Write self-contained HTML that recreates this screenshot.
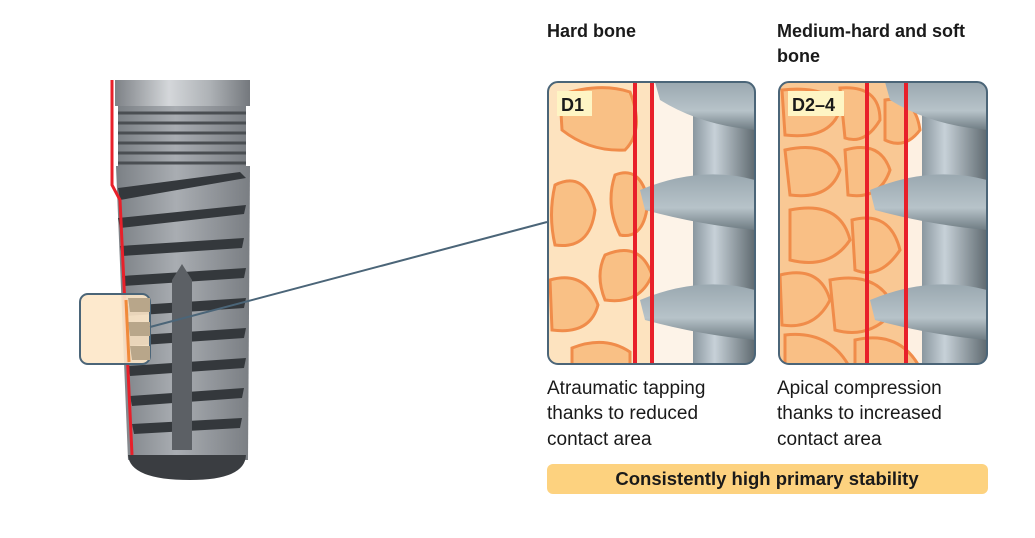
<!DOCTYPE html>
<html><head><meta charset="utf-8"><style>
html,body{margin:0;padding:0;background:#fff;width:1035px;height:538px;overflow:hidden}
svg{display:block}
text{font-family:"Liberation Sans",sans-serif;fill:#1a1a1a}
</style></head><body>
<svg width="1035" height="538" viewBox="0 0 1035 538" xmlns="http://www.w3.org/2000/svg">
<defs>
<linearGradient id="cap" x1="0" x2="1"><stop offset="0" stop-color="#7d8186"/><stop offset=".4" stop-color="#d4d7da"/><stop offset=".7" stop-color="#aeb2b6"/><stop offset="1" stop-color="#74787d"/></linearGradient>
<linearGradient id="body" x1="0" x2="1"><stop offset="0" stop-color="#7b8085"/><stop offset=".45" stop-color="#a9adb2"/><stop offset="1" stop-color="#7a7e83"/></linearGradient>
<linearGradient id="core" x1="0" x2="1"><stop offset="0" stop-color="#8a979f"/><stop offset=".35" stop-color="#c7d1d8"/><stop offset="1" stop-color="#5f6a70"/></linearGradient>
<linearGradient id="fl" x1="0" y1="0" x2="0" y2="1"><stop offset="0" stop-color="#9aa8b0"/><stop offset=".6" stop-color="#b7c3c9"/><stop offset="1" stop-color="#6f7c83"/></linearGradient>
<clipPath id="c1"><rect x="548" y="82" width="207" height="282" rx="10"/></clipPath>
<clipPath id="c2"><rect x="779" y="82" width="208" height="282" rx="10"/></clipPath>
</defs>

<!-- implant -->
<rect x="115" y="80" width="135" height="26" fill="url(#cap)"/>
<rect x="118" y="106" width="128" height="60" fill="url(#body)"/>
<g stroke="#4a4e52" stroke-width="3">
<line x1="118" y1="113" x2="246" y2="113"/><line x1="118" y1="123" x2="246" y2="123"/>
<line x1="118" y1="133" x2="246" y2="133"/><line x1="118" y1="143" x2="246" y2="143"/>
<line x1="118" y1="153" x2="246" y2="153"/><line x1="118" y1="163" x2="246" y2="163"/>
</g>
<path d="M116 166 L250 166 L248 460 L128 460 Z" fill="url(#body)"/>
<g fill="#34383c">
<path d="M118 188 L240 172 L246 178 L120 200 Z"/>
<path d="M118 218 L246 205 L244 214 L120 228 Z"/>
<path d="M120 246 L244 238 L242 248 L122 256 Z"/>
<path d="M122 276 L246 268 L244 278 L124 286 Z"/>
<path d="M124 306 L246 298 L244 308 L126 316 Z"/>
<path d="M126 336 L246 328 L244 338 L128 346 Z"/>
<path d="M128 366 L246 358 L244 368 L130 376 Z"/>
<path d="M130 396 L244 388 L242 398 L132 406 Z"/>
<path d="M132 424 L242 418 L240 428 L134 434 Z"/>
</g>
<path d="M172 280 L182 264 L192 280 L192 450 L172 450 Z" fill="#5c6065"/>
<path d="M128 455 Q130 480 190 480 Q245 480 246 455 Z" fill="#3a3d41"/>
<polyline points="112,80 112,185 120,200 132,455" fill="none" stroke="#e8202a" stroke-width="3"/>
<rect x="80" y="294" width="70" height="70" rx="8" fill="#fde7c8" fill-opacity=".9" stroke="#4b6578" stroke-width="2"/>
<g fill="#b8a68a"><path d="M128 298 L150 298 L150 312 L130 312 Z"/><path d="M128 322 L150 322 L150 336 L130 336 Z"/><path d="M130 346 L150 346 L150 360 L132 360 Z"/></g>
<line x1="126" y1="300" x2="129" y2="362" stroke="#f08a3a" stroke-width="3"/>
<line x1="150" y1="327" x2="547" y2="222" stroke="#4b6578" stroke-width="2"/>

<!-- panel 1 -->
<g clip-path="url(#c1)">
<rect x="548" y="82" width="207" height="282" fill="#fde3bf"/>
<rect x="652" y="82" width="50" height="282" fill="#fdf3e8"/>
<g fill="#f9c085" stroke="#f08c4a" stroke-width="3">
<path d="M560 95 Q600 82 630 92 Q645 130 625 150 Q590 152 562 130 Z"/>
<path d="M555 185 Q585 170 595 210 Q590 250 555 245 Q548 215 555 185 Z"/>
<path d="M615 175 Q640 165 648 200 Q645 240 620 235 Q605 205 615 175 Z"/>
<path d="M605 255 Q640 240 652 275 Q640 305 605 300 Q595 275 605 255 Z"/>
<path d="M550 280 Q585 270 598 305 Q590 335 552 330 Z"/>
<path d="M572 348 Q605 335 630 352 L630 370 L572 370 Z"/>
</g>
<rect x="693" y="82" width="62" height="282" fill="url(#core)"/>
<path d="M655 82 L755 82 L755 130 Q700 125 660 100 Z" fill="url(#fl)"/>
<path d="M640 190 Q700 165 755 180 L755 230 Q700 225 645 210 Z" fill="url(#fl)"/>
<path d="M640 300 Q700 275 755 290 L755 340 Q700 335 645 320 Z" fill="url(#fl)"/>
<line x1="635" y1="82" x2="635" y2="364" stroke="#e8202a" stroke-width="4"/>
<line x1="652" y1="82" x2="652" y2="364" stroke="#e8202a" stroke-width="4"/>
</g>
<rect x="548" y="82" width="207" height="282" rx="10" fill="none" stroke="#4b6578" stroke-width="2"/>
<rect x="557" y="91" width="35" height="25" fill="#fef5c4"/>
<text x="561" y="111" font-size="18" font-weight="bold">D1</text>

<!-- panel 2 -->
<g clip-path="url(#c2)">
<rect x="779" y="82" width="208" height="282" fill="#f9c894"/>
<rect x="906" y="82" width="20" height="282" fill="#fdf0e2"/>
<g fill="#f9bf85" stroke="#f08c4a" stroke-width="3">
<path d="M782 90 Q830 85 840 110 Q830 140 785 135 Z"/>
<path d="M840 88 Q880 85 880 120 Q865 145 845 138 Z"/>
<path d="M785 150 Q830 140 840 170 Q830 200 790 195 Z"/>
<path d="M845 150 Q880 140 890 170 Q880 200 848 195 Z"/>
<path d="M790 210 Q840 200 850 240 Q830 270 790 260 Z"/>
<path d="M852 220 Q890 210 900 250 Q880 280 855 270 Z"/>
<path d="M780 275 Q820 265 830 300 Q815 330 782 325 Z"/>
<path d="M830 280 Q880 270 895 310 Q870 340 835 330 Z"/>
<path d="M785 335 Q830 330 850 368 L785 368 Z"/>
<path d="M855 340 Q900 330 920 368 L855 368 Z"/>
<path d="M885 100 Q915 95 920 130 Q905 150 885 140 Z"/>
</g>
<rect x="922" y="82" width="65" height="282" fill="url(#core)"/>
<path d="M885 82 L987 82 L987 130 Q930 125 890 100 Z" fill="url(#fl)"/>
<path d="M870 190 Q930 165 987 180 L987 230 Q930 225 875 210 Z" fill="url(#fl)"/>
<path d="M870 300 Q930 275 987 290 L987 340 Q930 335 875 320 Z" fill="url(#fl)"/>
<line x1="867" y1="82" x2="867" y2="364" stroke="#e8202a" stroke-width="4"/>
<line x1="906" y1="82" x2="906" y2="364" stroke="#e8202a" stroke-width="4"/>
</g>
<rect x="779" y="82" width="208" height="282" rx="10" fill="none" stroke="#4b6578" stroke-width="2"/>
<rect x="788" y="91" width="56" height="25" fill="#fef5c4"/>
<text x="792" y="111" font-size="18" font-weight="bold">D2–4</text>

<!-- text -->
<text x="547" y="37" font-size="18" font-weight="bold">Hard bone</text>
<text x="777" y="37" font-size="18" font-weight="bold">Medium-hard and soft</text>
<text x="777" y="62" font-size="18" font-weight="bold">bone</text>
<g font-size="19">
<text x="547" y="394">Atraumatic tapping</text>
<text x="547" y="419">thanks to reduced</text>
<text x="547" y="445">contact area</text>
<text x="777" y="394">Apical compression</text>
<text x="777" y="419">thanks to increased</text>
<text x="777" y="445">contact area</text>
</g>
<rect x="547" y="464" width="441" height="30" rx="6" fill="#fdd27f"/>
<text x="767" y="485" font-size="18.5" font-weight="bold" text-anchor="middle">Consistently high primary stability</text>
</svg>
</body></html>
